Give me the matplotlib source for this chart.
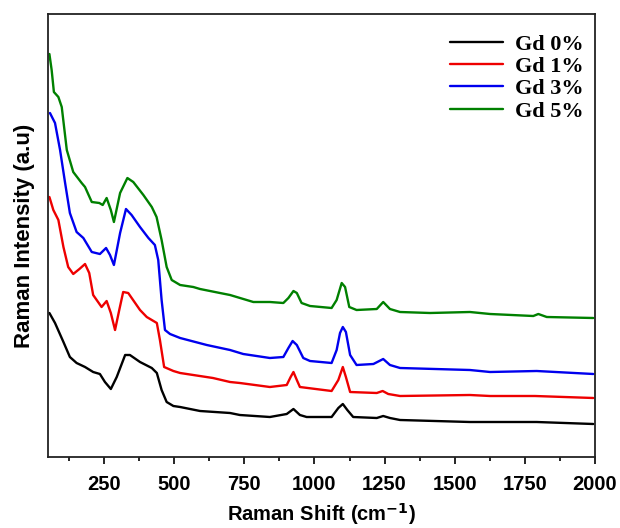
import matplotlib
matplotlib.use("Agg")
import matplotlib.pyplot as plt
from matplotlib.ticker import MultipleLocator

labels = ["Gd 0%", "Gd 1%", "Gd 3%", "Gd 5%"]
colors = ["#000000", "#ee0000", "#0000ee", "#008000"]

x0 = [55, 75, 105, 128, 152, 182, 211, 235, 253, 274, 295, 325, 342, 378, 420, 438, 455, 473, 497, 521,
      592, 699, 734, 841, 901, 925, 948, 972, 1061, 1085, 1101, 1117, 1138, 1222, 1245, 1269, 1305,
      1554, 1626, 1792, 1994]
y0 = [144, 134, 115, 100, 94, 90, 85, 83, 75, 68, 80, 102, 102, 95, 89, 84, 67, 55, 51, 50,
      46, 44, 42, 40, 43, 48, 42, 40, 40, 49, 53, 47, 40, 39, 41, 39, 37,
      35, 35, 35, 33]

x1 = [55, 69, 87, 105, 122, 140, 162, 182, 197, 211, 241, 259, 274, 289, 304, 318, 336, 378, 402, 438,
      449, 464, 497, 521, 638, 699, 734, 841, 901, 915, 925, 937, 948, 1061, 1085, 1101, 1112, 1127,
      1222, 1243, 1263, 1305, 1554, 1626, 1786, 1994]
y1 = [260, 247, 237, 210, 190, 183, 188, 193, 184, 162, 150, 156, 144, 127, 147, 165, 164, 147, 140, 134,
      117, 90, 86, 84, 79, 75, 74, 70, 72, 80, 85, 77, 70, 66, 77, 90, 80, 65,
      64, 66, 63, 61, 62, 61, 61, 59]

x2 = [57, 75, 93, 111, 128, 152, 176, 206, 235, 257, 271, 285, 307, 328, 348, 378, 408, 431, 443, 455,
      467, 485, 521, 616, 699, 746, 841, 889, 907, 922, 937, 960, 984, 1061, 1079, 1091, 1101, 1112,
      1127, 1150, 1210, 1245, 1269, 1305, 1554, 1626, 1792, 1994]
y2 = [344, 334, 307, 274, 244, 225, 219, 205, 203, 209, 202, 192, 224, 248, 242, 230, 219, 212, 197, 157,
      127, 123, 119, 112, 107, 103, 99, 100, 109, 116, 112, 99, 96, 94, 107, 124, 130, 125,
      102, 92, 93, 98, 92, 89, 87, 85, 86, 83]

x3 = [55, 63, 71, 87, 99, 117, 140, 170, 182, 206, 233, 245, 259, 274, 285, 307, 333, 354, 390, 420,
      437, 455, 473, 491, 521, 568, 592, 663, 699, 782, 841, 889, 907, 925, 937, 954, 984, 1061, 1079,
      1097, 1109, 1124, 1150, 1222, 1245, 1269, 1305, 1412, 1554, 1626, 1780, 1798, 1828, 1994]
y3 = [403, 387, 365, 360, 350, 307, 285, 274, 270, 255, 254, 252, 259, 247, 235, 264, 279, 275, 262, 250,
      240, 217, 190, 177, 172, 170, 168, 164, 162, 155, 155, 154, 159, 166, 164, 154, 151, 149, 157,
      174, 170, 150, 147, 148, 155, 148, 145, 144, 145, 143, 141, 143, 140, 139]

xs = [x0, x1, x2, x3]
ys = [y0, y1, y2, y3]

xticks = [250, 500, 750, 1000, 1250, 1500, 1750, 2000]

fig = plt.figure(figsize=(6.2, 5.28), dpi=100)
ax = fig.add_axes([48/620, 1-457/528, (595-48)/620, (457-14)/528])

for x, y, c, l in zip(xs, ys, colors, labels):
    ax.plot(x, y, color=c, lw=1.7, label=l, solid_joinstyle='round', solid_capstyle='round')

ax.set_xlim(50, 2000)
ax.set_ylim(0, 443)
ax.set_xticks(xticks)
ax.set_xticklabels([str(t) for t in xticks])
ax.xaxis.set_minor_locator(MultipleLocator(125))
ax.set_yticks([])
ax.tick_params(axis='x', which='major', direction='out', length=5, width=1.2, pad=8)
ax.tick_params(axis='x', which='minor', direction='out', length=3, width=1.2)
for lab in ax.get_xticklabels():
    lab.set_fontfamily('Liberation Sans')
    lab.set_fontweight('bold')
    lab.set_fontsize(14.5)
for s in ax.spines.values():
    s.set_linewidth(1.3)
    s.set_color('#222222')

ax.set_xlabel("Raman Shift (cm$^{\\mathbf{-1}}$)", fontsize=14.5, fontweight='bold',
              family='Liberation Sans', labelpad=5)
ax.set_ylabel("Raman Intensity (a.u)", fontsize=16, fontweight='bold',
              family='Liberation Sans', labelpad=9)

leg = ax.legend(loc='upper right', bbox_to_anchor=(1.015, 1.0), frameon=False,
                prop={'family': 'Liberation Serif', 'weight': 'bold', 'size': 16},
                handlelength=2.4, labelspacing=0.08, handletextpad=0.5)

fig.savefig("out.png", dpi=100)
